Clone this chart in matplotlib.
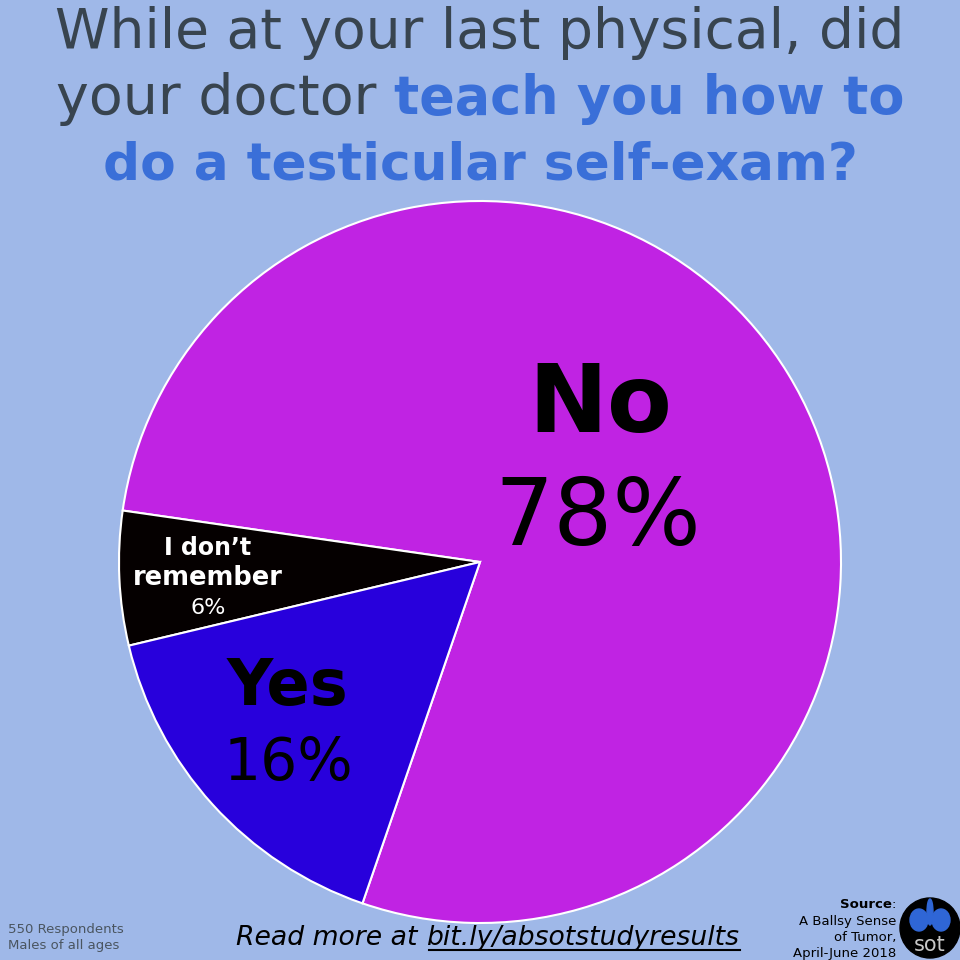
import numpy as np
import matplotlib
matplotlib.use("Agg")
import matplotlib.pyplot as plt
from matplotlib.patches import Circle, Ellipse

# donnees
labels = ["No", "I don\u2019t\nremember", "Yes"]
values = [78, 6, 16]
colors = ["#C023E3", "#050000", "#2800DC"]
bg = "#9FB8E8"
gris = "#38444F"
bleu = "#3A6FD8"

plt.rcParams['font.family'] = ['DejaVu Sans']

fig = plt.figure(figsize=(9.6, 9.6), dpi=100)
fig.patch.set_facecolor(bg)
ax = fig.add_axes([0, 0, 1, 1])
ax.set_xlim(0, 960)
ax.set_ylim(0, 960)
ax.set_aspect('equal')
ax.axis('off')

ax.pie(values, colors=colors, startangle=251, counterclock=True,
       center=(480, 398), radius=361,
       wedgeprops=dict(edgecolor='white', linewidth=1.5))
ax.set_xlim(0, 960)
ax.set_ylim(0, 960)

fig.canvas.draw()
rend = fig.canvas.get_renderer()


def ligne(morceaux, y, xc=480):
    """morceaux : liste de (texte, couleur, poids, taille)"""
    objs = []
    for t, c, w, s in morceaux:
        objs.append(ax.text(0, y, t, color=c, fontsize=s, fontweight=w,
                            ha='left', va='baseline'))
    larg = [o.get_window_extent(rend).width for o in objs]
    x = xc - sum(larg) / 2
    for o, l in zip(objs, larg):
        o.set_x(x)
        x += l


# titre
ligne([("While at your last physical, did", gris, 'normal', 39.7)], 960 - 48)
ligne([("your doctor ", gris, 'normal', 40), ("teach you how to", bleu, 'bold', 37.8)], 960 - 114)
ligne([("do a testicular self-exam?", bleu, 'bold', 37.3)], 960 - 180)

# etiquettes
ax.text(600, 960 - 432, "No", fontsize=68, fontweight='bold', ha='center', va='baseline', color='black')
ax.text(598, 960 - 545, "78%", fontsize=67, ha='center', va='baseline', color='black')
ax.text(288, 960 - 705, "Yes", fontsize=46, fontweight='bold', ha='center', va='baseline', color='black')
ax.text(288, 960 - 780, "16%", fontsize=42, ha='center', va='baseline', color='black')
ax.text(208, 960 - 548, "I don\u2019t", fontsize=17, fontweight='bold', ha='center', va='center', color='white')
ax.text(208, 960 - 578, "remember", fontsize=18.5, fontweight='bold', ha='center', va='center', color='white')
ax.text(208, 960 - 608, "6%", fontsize=16, ha='center', va='center', color='white')

# bas de page
a = ax.text(0, 960 - 945, "Read more at ", fontsize=19.2, style='italic', ha='left', va='baseline', color='black')
b = ax.text(0, 960 - 945, "bit.ly/absotstudyresults", fontsize=19.2, style='italic', ha='left', va='baseline', color='black')
la = a.get_window_extent(rend).width
lb = b.get_window_extent(rend).width
x0 = 488 - (la + lb) / 2
a.set_x(x0)
b.set_x(x0 + la)
ax.plot([x0 + la + 2, x0 + la + lb], [960 - 950, 960 - 950], color='black', lw=1.5)

ax.text(8, 960 - 930, "550 Respondents", fontsize=9.5, color='#4A5560', ha='left', va='center')
ax.text(8, 960 - 946, "Males of all ages", fontsize=9.5, color='#4A5560', ha='left', va='center')

s1 = ax.text(896, 960 - 905, ":", fontsize=9.5, color='black', ha='right', va='center')
ws = s1.get_window_extent(rend).width
ax.text(896 - ws, 960 - 905, "Source", fontsize=9.5, fontweight='bold', color='black', ha='right', va='center')
for i, t in enumerate(["A Ballsy Sense", "of Tumor,", "April-June 2018"]):
    ax.text(896, 960 - 921 - 16 * i, t, fontsize=9.5, color='black', ha='right', va='center')

# logo
ax.add_patch(Circle((930, 960 - 928), 30, color='black'))
ax.add_patch(Ellipse((919, 960 - 920), 18, 22, color='#2F66D6'))
ax.add_patch(Ellipse((941, 960 - 920), 18, 22, color='#2F66D6'))
ax.add_patch(Ellipse((930, 960 - 912), 6, 26, color='#2F66D6'))
ax.text(930, 960 - 945, "sot", fontsize=15, color='#C8C8C8', ha='center', va='center')

fig.savefig("out.png", dpi=100, facecolor=bg)
